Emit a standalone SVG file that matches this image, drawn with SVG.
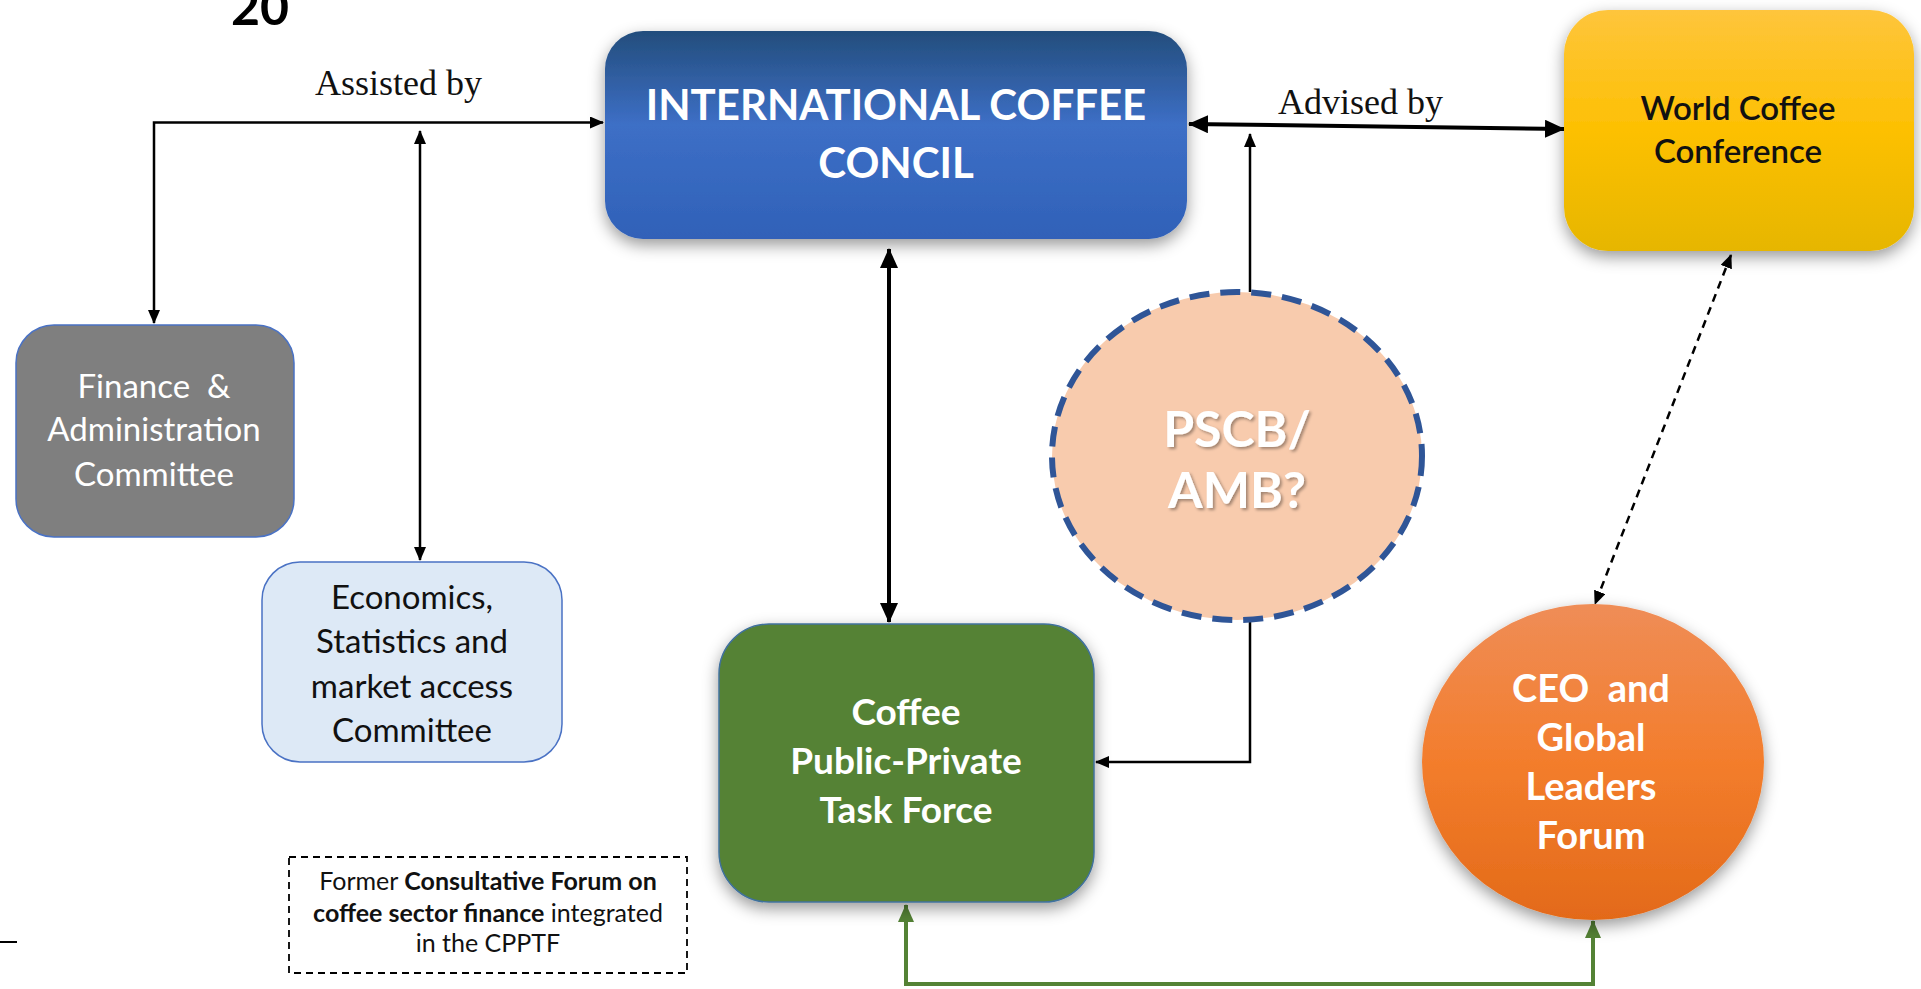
<svg xmlns="http://www.w3.org/2000/svg" width="1921" height="989" viewBox="0 0 1921 989">
<defs>
<style>
.lbl{font-family:"Liberation Serif","Times New Roman",serif;font-size:36px;fill:#111}
.w{font-family:Lato,"Open Sans",sans-serif;fill:#fff;text-anchor:middle}
.k{font-family:Lato,"Open Sans",sans-serif;fill:#111;text-anchor:middle}
.b{font-weight:700}
.ln{fill:none;stroke:#000;stroke-width:2.5}
.thick{fill:none;stroke:#000;stroke-width:4}
</style>
<linearGradient id="gICC" x1="0" y1="0" x2="0" y2="1">
<stop offset="0" stop-color="#234d7c"/><stop offset="0.45" stop-color="#3d6fc6"/><stop offset="1" stop-color="#3061b8"/>
</linearGradient>
<linearGradient id="gWCC" x1="0" y1="0" x2="0" y2="1">
<stop offset="0" stop-color="#fec53c"/><stop offset="0.5" stop-color="#fdc002"/><stop offset="1" stop-color="#e6b600"/>
</linearGradient>
<linearGradient id="gCEO" x1="0" y1="0" x2="0" y2="1">
<stop offset="0" stop-color="#ef8d57"/><stop offset="0.5" stop-color="#f37d2c"/><stop offset="1" stop-color="#e36a19"/>
</linearGradient>
<filter id="sh" x="-20%" y="-20%" width="140%" height="150%">
<feDropShadow dx="0" dy="6" stdDeviation="8" flood-color="#000" flood-opacity="0.4"/>
</filter>
<filter id="tsh" x="-20%" y="-20%" width="140%" height="140%">
<feDropShadow dx="2" dy="2" stdDeviation="1.5" flood-color="#000" flood-opacity="0.35"/>
</filter>
<marker id="ah" markerUnits="userSpaceOnUse" markerWidth="14" markerHeight="12" refX="13" refY="6" orient="auto-start-reverse">
<path d="M0,0 L14,6 L0,12 Z" fill="#000"/>
</marker>
<marker id="ahL" markerUnits="userSpaceOnUse" markerWidth="20" markerHeight="18" refX="19" refY="9" orient="auto-start-reverse">
<path d="M0,0 L20,9 L0,18 Z" fill="#000"/>
</marker>
<marker id="ahG" markerUnits="userSpaceOnUse" markerWidth="18" markerHeight="16" refX="17" refY="8" orient="auto-start-reverse">
<path d="M0,0 L18,8 L0,16 Z" fill="#548235"/>
</marker>
</defs>
<rect width="1921" height="989" fill="#fff"/>

<text x="231" y="25" font-family="Lato,'Open Sans',sans-serif" font-weight="700" font-size="50" fill="#000">20</text>
<line x1="0" y1="942" x2="17" y2="942" stroke="#000" stroke-width="2"/>

<g id="connectors">
<path class="ln" d="M154,323 L154,122.5 L603,122.5" marker-start="url(#ah)" marker-end="url(#ah)"/>
<path class="ln" d="M420,131 L420,560" marker-start="url(#ah)" marker-end="url(#ah)"/>
<path class="thick" d="M1189,124 L1564,129" marker-start="url(#ahL)" marker-end="url(#ahL)"/>
<path class="ln" d="M1250,292 L1250,134" marker-end="url(#ah)"/>
<path class="thick" d="M889,249 L889,622" marker-start="url(#ahL)" marker-end="url(#ahL)"/>
<path class="ln" stroke-width="3" d="M1250,621 L1250,762 L1096,762" marker-end="url(#ah)"/>
<path class="ln" stroke-width="1.8" stroke-dasharray="8,6" d="M1731,255 L1595,604" marker-start="url(#ah)" marker-end="url(#ah)"/>
<path fill="none" stroke="#548235" stroke-width="4" d="M906,905 L906,984 L1593,984 L1593,921" marker-start="url(#ahG)" marker-end="url(#ahG)"/>
<text class="lbl" x="315" y="95">Assisted by</text>
<text class="lbl" x="1278" y="114">Advised by</text>
</g>

<g id="icc">
<rect x="605" y="31" width="582" height="208" rx="38" fill="url(#gICC)" filter="url(#sh)"/>
<text class="w b" x="896" y="120" font-size="42">INTERNATIONAL COFFEE</text>
<text class="w b" x="896" y="178" font-size="42">CONCIL</text>
</g>

<g id="wcc">
<rect x="1564" y="10" width="350" height="241" rx="44" fill="url(#gWCC)" filter="url(#sh)"/>
<text class="k" x="1738" y="120" font-size="33" font-weight="600">World Coffee</text>
<text class="k" x="1738" y="163" font-size="33" font-weight="600">Conference</text>
</g>

<g id="finance">
<rect x="16" y="325" width="278" height="212" rx="38" fill="#7f7f7f" stroke="#4a72c4" stroke-width="1.5"/>
<text class="w" x="154" y="398" font-size="33" xml:space="preserve">Finance  &amp;</text>
<text class="w" x="154" y="441" font-size="33">Administration</text>
<text class="w" x="154" y="486" font-size="33">Committee</text>
</g>

<g id="econ">
<rect x="262" y="562" width="300" height="200" rx="38" fill="#dde9f6" stroke="#4a72c4" stroke-width="1.5"/>
<text class="k" x="412" y="609" font-size="33">Economics,</text>
<text class="k" x="412" y="653" font-size="33">Statistics and</text>
<text class="k" x="412" y="698" font-size="33">market access</text>
<text class="k" x="412" y="742" font-size="33">Committee</text>
</g>

<g id="note">
<rect x="289" y="857" width="398" height="116" fill="none" stroke="#000" stroke-width="1.8" stroke-dasharray="7,5"/>
<text class="k" x="488" y="890" font-size="25">Former <tspan font-weight="700">Consultative Forum on</tspan></text>
<text class="k" x="488" y="922" font-size="25"><tspan font-weight="700">coffee sector finance</tspan> integrated</text>
<text class="k" x="488" y="952" font-size="25">in the CPPTF</text>
</g>

<g id="cpptf">
<rect x="719" y="624" width="375" height="278" rx="50" fill="#548235" stroke="#41719c" stroke-width="1.5" filter="url(#sh)"/>
<text class="w b" x="906" y="725" font-size="37">Coffee</text>
<text class="w b" x="906" y="774" font-size="37">Public-Private</text>
<text class="w b" x="906" y="823" font-size="37">Task Force</text>
</g>

<g id="pscb">
<ellipse cx="1237" cy="456" rx="185" ry="164" fill="#f8cbad" stroke="#2f5597" stroke-width="6" stroke-dasharray="20,11"/>
<g filter="url(#tsh)">
<text class="w b" x="1237" y="447" font-size="50">PSCB/</text>
<text class="w b" x="1237" y="508" font-size="50">AMB?</text>
</g>
</g>

<g id="ceo">
<ellipse cx="1593" cy="762" rx="171" ry="158" fill="url(#gCEO)" filter="url(#sh)"/>
<text class="w b" x="1591" y="702" font-size="38" xml:space="preserve">CEO  and</text>
<text class="w b" x="1591" y="751" font-size="38">Global</text>
<text class="w b" x="1591" y="800" font-size="38">Leaders</text>
<text class="w b" x="1591" y="849" font-size="38">Forum</text>
</g>
</svg>
